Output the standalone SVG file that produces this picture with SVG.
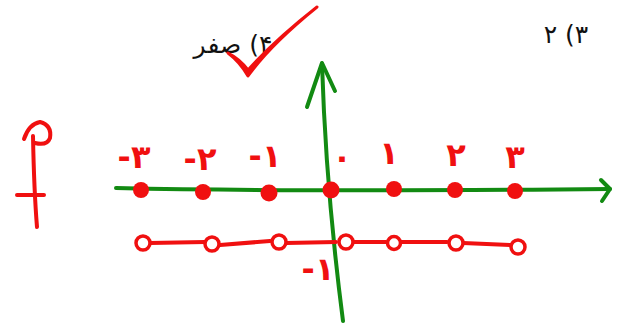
<svg xmlns="http://www.w3.org/2000/svg" width="619" height="327" viewBox="0 0 619 327">
<style>
.g{fill:none;stroke:#128a12;stroke-width:4;stroke-linecap:round;stroke-linejoin:round}
.r{fill:none;stroke:#f01010;stroke-width:4;stroke-linecap:round;stroke-linejoin:round}
.dot{fill:#f01010;stroke:none}
.oc{fill:#fff;stroke:#f01010;stroke-width:3.5}
.lab{font-family:"DejaVu Sans",sans-serif;font-size:32px;fill:#f01010;font-weight:bold}
.blk{font-family:"DejaVu Sans",sans-serif;font-size:25px;fill:#111}
</style>
<rect width="619" height="327" fill="#fff"/>
<g id="connectors">
<path class="g" d="M116,188 Q300,192 610,189"/>
<path class="g" d="M601,180 L610,189 L602,201"/>
<path class="g" d="M322,64 Q326,190 343,321"/>
<path class="g" d="M307,107 L322,63 L335,91"/>
<path class="r" d="M150,243 L205,242 M220,245 L270,241 M286,243 L336,242 M353,242 L386,242 M401,242 L447,242 M463,243 L510,245" stroke-width="3.5"/>
</g>
<g id="top-labels">
<text class="blk" x="233" y="53" direction="rtl" text-anchor="middle">۴) صفر</text>
<text class="blk" x="566" y="43" direction="rtl" text-anchor="middle">۳) ۲</text>
</g>
<g id="check"><path d="M228,53 Q240,62 248,76 Q270,45 317,7 Q275,40 248,70 Q240,59 228,53Z" fill="#f01010" stroke="#f01010" stroke-width="3" stroke-linejoin="round"/></g>
<g id="mark"><path class="r" stroke-width="5" d="M24,139 Q29,124 40,122 Q52,125 50,138 Q47,146 35,143 M33,136 Q34,190 37,227 M17,195 L44,195"/></g>
<g id="dots">
<circle class="dot" cx="141" cy="190" r="8"/>
<circle class="dot" cx="203" cy="192" r="8"/>
<circle class="dot" cx="269" cy="193" r="8.5"/>
<circle class="dot" cx="331" cy="190" r="8.5"/>
<circle class="dot" cx="394" cy="189" r="8"/>
<circle class="dot" cx="455" cy="190" r="8"/>
<circle class="dot" cx="515" cy="191" r="8"/>
</g>
<g id="open-circles">
<circle class="oc" cx="143" cy="243" r="7"/>
<circle class="oc" cx="212" cy="244" r="7"/>
<circle class="oc" cx="279" cy="242" r="7"/>
<circle class="oc" cx="346" cy="242" r="7"/>
<circle class="oc" cx="394" cy="243" r="6.5"/>
<circle class="oc" cx="456" cy="243" r="7"/>
<circle class="oc" cx="518" cy="247" r="7"/>
</g>
<g id="num-labels">
<text class="lab" x="134" y="168" text-anchor="middle" direction="ltr">-۳</text>
<text class="lab" x="200" y="170" text-anchor="middle" direction="ltr">-۲</text>
<text class="lab" x="265" y="167" text-anchor="middle" direction="ltr">-۱</text>
<text class="lab" x="342" y="168" text-anchor="middle">۰</text>
<text class="lab" x="389" y="164" text-anchor="middle">۱</text>
<text class="lab" x="456" y="166" text-anchor="middle">۲</text>
<text class="lab" x="515" y="168" text-anchor="middle">۳</text>
<text class="lab" x="318" y="280" text-anchor="middle" direction="ltr">-۱</text>
</g>
</svg>
